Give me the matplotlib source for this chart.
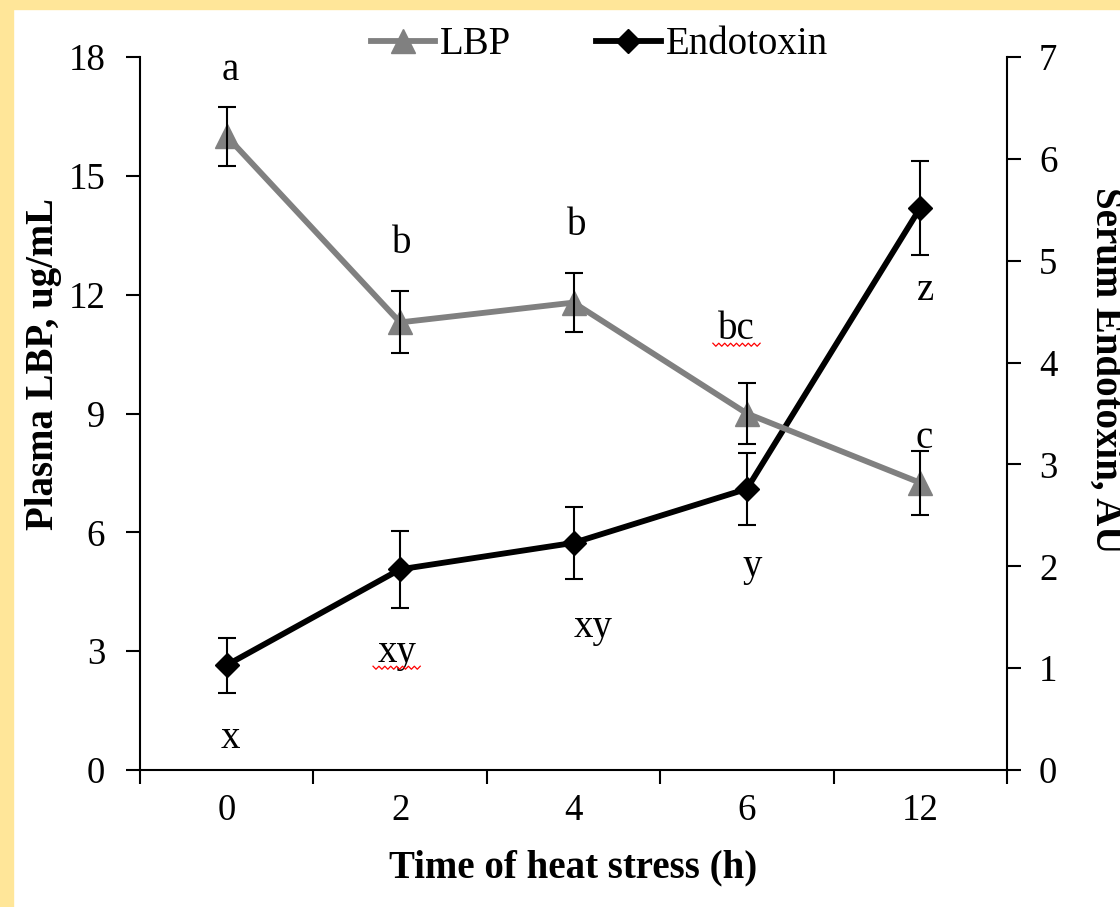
import numpy as np
import matplotlib
matplotlib.use('Agg')
import matplotlib.pyplot as plt
from matplotlib.patches import Rectangle

plt.rcParams['font.family'] = 'Liberation Serif'

# time points (h) and measured means / errors
times = ['0', '2', '4', '6', '12']
lbp_mean = [16.0, 11.3, 11.8, 9.0, 7.25]
lbp_err = [0.75, 0.78, 0.75, 0.78, 0.8]
endo_mean = [1.03, 1.97, 2.23, 2.76, 5.52]
endo_err = [0.27, 0.38, 0.35, 0.35, 0.46]

# significance letters and where they sit
lbp_letters = ['a', 'b', 'b', 'bc', 'c']
lbp_letter_y = [17.42, 13.06, 13.5, 10.88, 8.13]
lbp_letter_dx = [0.02, 0.01, 0.02, -0.06, 0.02]
endo_letters = ['x', 'xy', 'xy', 'y', 'z']
endo_letter_y = [0.216, 1.06, 1.31, 1.90, 4.61]
endo_letter_dx = [0.02, -0.02, 0.115, 0.03, 0.03]

tick_fs = 26.5
label_fs = 28
gray = '#808080'
yellow = '#FFE699'

fig = plt.figure(figsize=(11.2, 9.07), dpi=100)
fig.patches.append(Rectangle((0, 0), 13 / 1120, 1, transform=fig.transFigure,
                             color=yellow, zorder=0))
fig.patches.append(Rectangle((0, 1 - 9 / 907), 1, 9 / 907, transform=fig.transFigure,
                             color=yellow, zorder=0))

ax = fig.add_axes([140 / 1120, 1 - 770 / 907, 867 / 1120, 713 / 907])
ax2 = ax.twinx()
ax.set_zorder(ax2.get_zorder() + 1)
ax.patch.set_visible(False)

x = np.arange(len(times))

# endotoxin on the right axis
ax2.errorbar(x, endo_mean, yerr=endo_err, fmt='none', ecolor='black',
             elinewidth=1.5, capsize=6.5, capthick=1.5, zorder=3)
ln2, = ax2.plot(x, endo_mean, color='black', lw=4.2, marker='D', ms=12.5,
                zorder=2, label='Endotoxin')

# LBP on the left axis
ax.errorbar(x, lbp_mean, yerr=lbp_err, fmt='none', ecolor='black',
            elinewidth=1.5, capsize=6.5, capthick=1.5, zorder=3)
ln1, = ax.plot(x, lbp_mean, color=gray, lw=4.2, marker='^', ms=17,
               zorder=2, label='LBP')

for i in range(len(times)):
    ax.text(x[i] + lbp_letter_dx[i], lbp_letter_y[i], lbp_letters[i],
            ha='center', va='baseline', fontsize=label_fs)
    ax2.text(x[i] + endo_letter_dx[i], endo_letter_y[i], endo_letters[i],
             ha='center', va='baseline', fontsize=label_fs)

ax.set_xlim(-0.5, len(times) - 0.5)
ax.set_ylim(0, 18)
ax2.set_ylim(0, 7)
ax.set_yticks(np.arange(0, 19, 3))
ax2.set_yticks(np.arange(0, 8, 1))

# ticks between categories, labels at the category centres
ax.set_xticks(np.arange(-0.5, len(times), 1))
ax.set_xticklabels([])
ax.set_xticks(x, minor=True)
ax.set_xticklabels(times, minor=True)
ax.tick_params(axis='x', which='major', direction='out', length=10, width=1.5)
ax.tick_params(axis='x', which='minor', length=0, pad=17, labelsize=tick_fs)
ax.tick_params(axis='y', direction='out', length=10, width=1.5, pad=15, labelsize=tick_fs)
ax2.tick_params(axis='y', direction='out', length=10, width=1.5, pad=13, labelsize=tick_fs)

for a in (ax, ax2):
    a.spines['top'].set_visible(False)
    for s in ('left', 'right', 'bottom'):
        a.spines[s].set_linewidth(1.5)
ax.spines['right'].set_visible(False)
ax2.spines['left'].set_visible(False)
ax2.spines['bottom'].set_visible(False)

fig.text(573 / 1120, 1 - 868 / 907, 'Time of heat stress (h)', ha='center', va='center',
         fontsize=label_fs, fontweight='bold')
fig.text(0.0388, 0.599, 'Plasma LBP, ug/mL', rotation=90, ha='center', va='center',
         fontsize=label_fs, fontweight='bold')
fig.text(0.987, 0.592, 'Serum Endotoxin, AU', rotation=-90, ha='center', va='center',
         fontsize=label_fs, fontweight='bold')

fig.legend(handles=[ln1, ln2], loc='center', bbox_to_anchor=(0.535, 1 - 45 / 907),
           ncol=2, frameon=False, fontsize=label_fs, handlelength=1.65,
           handletextpad=0.13, columnspacing=2.2, borderaxespad=0, borderpad=0)

# red wavy underline beneath a couple of the letters
wave_x = np.linspace(-17, 17, 17)
wave_y = np.where(np.arange(17) % 2 == 0, 0.0, -2.2) - 3


def add_squiggle(axis, xpos, ypos):
    px, py = axis.transData.transform((xpos, ypos))
    fig.add_artist(plt.Line2D(px + wave_x * 100 / 72, py + wave_y * 100 / 72,
                              transform=None, color='red', lw=0.9))


fig.canvas.draw()
add_squiggle(ax, x[3] + lbp_letter_dx[3], lbp_letter_y[3])
add_squiggle(ax2, x[1] + endo_letter_dx[1], endo_letter_y[1])

fig.savefig('out.png', dpi=100)
